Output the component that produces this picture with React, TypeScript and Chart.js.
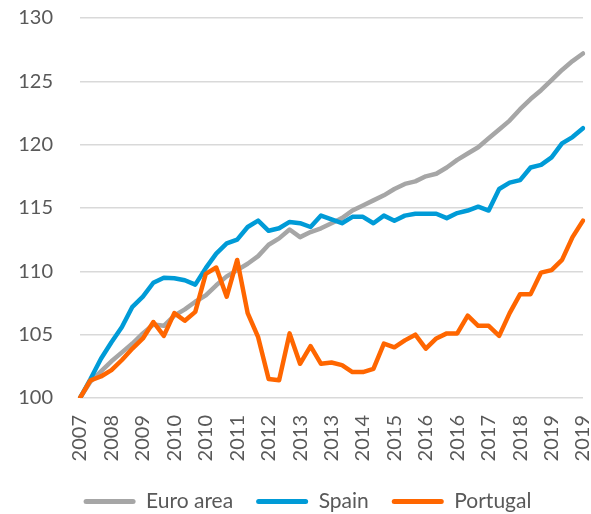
import React, { useEffect, useRef } from 'react';
import { Chart, registerables } from 'chart.js';

Chart.register(...registerables);

// Quarterly data, 2007Q4 .. 2019Q4 (labels show the year)
const categories = [
  '2007',
  '2008', '2008', '2008', '2008',
  '2009', '2009', '2009', '2009',
  '2010', '2010', '2010', '2010',
  '2011', '2011', '2011', '2011',
  '2012', '2012', '2012', '2012',
  '2013', '2013', '2013', '2013',
  '2014', '2014', '2014', '2014',
  '2015', '2015', '2015', '2015',
  '2016', '2016', '2016', '2016',
  '2017', '2017', '2017', '2017',
  '2018', '2018', '2018', '2018',
  '2019', '2019', '2019', '2019',
];

const euroArea = [
  100.0, 101.3, 102.1, 102.9, 103.6, 104.3, 105.1, 105.8, 105.7, 106.5,
  107.0, 107.6, 108.1, 108.9, 109.6, 110.1, 110.6, 111.2, 112.1, 112.6,
  113.3, 112.7, 113.1, 113.4, 113.8, 114.2, 114.8, 115.2, 115.6, 116.0,
  116.5, 116.9, 117.1, 117.5, 117.7, 118.2, 118.8, 119.3, 119.8, 120.5,
  121.2, 121.9, 122.8, 123.6, 124.3, 125.1, 125.9, 126.6, 127.2,
];

const spain = [
  100.0, 101.5, 103.1, 104.4, 105.6, 107.2, 108.0, 109.1, 109.5, 109.45,
  109.3, 108.95, 110.25, 111.4, 112.2, 112.5, 113.5, 114.0, 113.2, 113.4,
  113.9, 113.8, 113.5, 114.4, 114.1, 113.8, 114.3, 114.3, 113.8, 114.4,
  114.0, 114.4, 114.55, 114.55, 114.55, 114.2, 114.6, 114.8, 115.1, 114.8,
  116.5, 117.0, 117.2, 118.2, 118.4, 119.0, 120.1, 120.6, 121.3,
];

const portugal = [
  100.0, 101.4, 101.7, 102.2, 103.0, 103.9, 104.7, 106.0, 104.9, 106.7,
  106.1, 106.8, 109.8, 110.3, 108.0, 110.9, 106.7, 104.8, 101.5, 101.4,
  105.1, 102.7, 104.1, 102.7, 102.8, 102.6, 102.05, 102.05, 102.3, 104.3,
  104.0, 104.55, 105.0, 103.9, 104.7, 105.1, 105.1, 106.5, 105.7, 105.7,
  104.9, 106.7, 108.2, 108.2, 109.9, 110.1, 110.9, 112.7, 114.0,
];

const seriesNames = ['Euro area', 'Spain', 'Portugal'];
const seriesColors = ['#a6a6a6', '#009bd7', '#ff6600'];

const yMin = 100;
const yMax = 130;
const yStep = 5;
const labelEvery = 3;

const textColor = '#595959';
const fontFamily = 'Lato, "Open Sans", sans-serif';

const legendShift = {
  id: 'legendShift',
  afterLayout(chart: any) {
    const lg = chart.legend;
    if (lg) {
      lg.left += 16;
      lg.right += 16;
    }
  },
};

export default function App() {
  const ref = useRef<HTMLCanvasElement>(null);

  useEffect(() => {
    const values = [euroArea, spain, portugal];
    const chart = new Chart(ref.current as HTMLCanvasElement, {
      type: 'line',
      data: {
        labels: categories,
        datasets: values.map((d, i) => ({
          label: seriesNames[i],
          data: d,
          borderColor: seriesColors[i],
          backgroundColor: seriesColors[i],
          borderWidth: 4.5,
          pointRadius: 0,
          pointHoverRadius: 0,
          tension: 0,
          fill: false,
          borderCapStyle: 'round',
          borderJoinStyle: 'round',
          order: 3 - i,
        })),
      },
      plugins: [legendShift],
      options: {
        animation: false,
        responsive: false,
        events: [],
        layout: { padding: { left: 0, right: 8, top: 18, bottom: -8 } },
        plugins: {
          tooltip: { enabled: false },
          legend: {
            position: 'bottom',
            labels: {
              boxWidth: 52,
              boxHeight: 5,
              padding: 23,
              color: textColor,
              font: { family: fontFamily, size: 21 },
              generateLabels: (c: any) =>
                c.data.datasets.map((ds: any, i: number) => ({
                  text: ds.label,
                  fillStyle: ds.borderColor,
                  strokeStyle: ds.borderColor,
                  lineWidth: 0,
                  borderRadius: 2.5,
                  hidden: false,
                  datasetIndex: i,
                  fontColor: textColor,
                })),
            },
          },
        },
        scales: {
          x: {
            type: 'category',
            offset: false,
            grid: { display: false, drawTicks: false },
            border: { display: false },
            ticks: {
              autoSkip: false,
              minRotation: 90,
              maxRotation: 90,
              padding: 17,
              color: textColor,
              font: { family: fontFamily, size: 20 },
              callback: (_v: any, i: number) => (i % labelEvery === 0 ? categories[i] : ''),
            },
            afterFit: (s: any) => {
              s.height = 70;
              s.paddingLeft = 0;
              s.paddingRight = 0;
            },
          },
          y: {
            min: yMin,
            max: yMax,
            grid: { color: '#d9d9d9', lineWidth: 1.5, drawTicks: false },
            border: { display: false },
            ticks: {
              stepSize: yStep,
              padding: 27,
              color: textColor,
              font: { family: fontFamily, size: 20 },
            },
            afterFit: (s: any) => {
              s.width = 80;
              s.paddingTop = 0;
              s.paddingBottom = 0;
            },
          },
        },
      },
    } as any);
    return () => chart.destroy();
  }, []);

  return (
    <div style={{ position: 'absolute', left: 0, top: 0, width: 591, height: 514, background: '#fff' }}>
      <canvas ref={ref} width={591} height={514} style={{ display: 'block' }} />
    </div>
  );
}
